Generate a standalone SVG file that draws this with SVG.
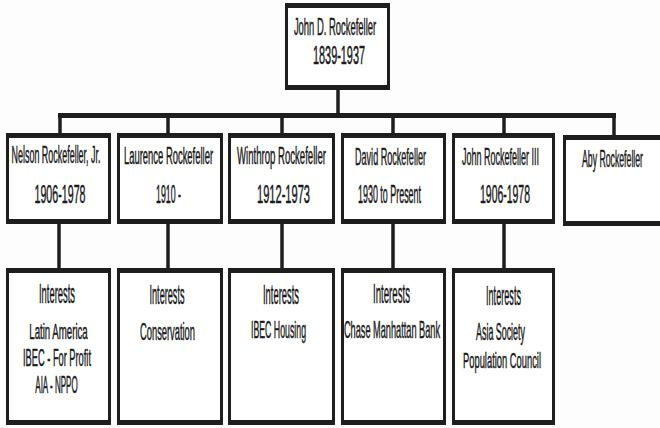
<svg xmlns="http://www.w3.org/2000/svg" width="660" height="428" viewBox="0 0 660 428">
<style>
.bx{fill:#fff;stroke:#1e1e1e;stroke-width:3}
.bd{fill:#1e1e1e}
.cn{stroke:#1e1e1e;stroke-width:3.5;fill:none}
text{font-family:"Liberation Sans",Arial,sans-serif;fill:#1a1a1a;text-anchor:middle;stroke:#1a1a1a;stroke-width:0.5}
.nm{font-size:23px}
.dt{font-size:25px}
.hd{font-size:27px}
.it{font-size:23px}
</style>
<rect width="660" height="428" fill="#fdfdfd"/>
<g id="connectors">
<line class="cn" x1="338" y1="88" x2="338" y2="116"/>
<line class="cn" x1="58" y1="115.5" x2="616" y2="115.5" style="stroke-width:5"/>
<line class="cn" x1="60" y1="115" x2="60" y2="135"/>
<line class="cn" x1="168" y1="115" x2="168" y2="135"/>
<line class="cn" x1="282" y1="115" x2="282" y2="135"/>
<line class="cn" x1="393" y1="115" x2="393" y2="135"/>
<line class="cn" x1="504" y1="115" x2="504" y2="135"/>
<line class="cn" x1="614" y1="115" x2="614" y2="135"/>
<line class="cn" x1="59" y1="222" x2="59" y2="270"/>
<line class="cn" x1="168" y1="222" x2="168" y2="270"/>
<line class="cn" x1="282" y1="222" x2="282" y2="270"/>
<line class="cn" x1="393" y1="222" x2="393" y2="270"/>
<line class="cn" x1="504" y1="222" x2="504" y2="270"/>
</g>
<g id="john-d">
<rect class="bx" x="286.5" y="4.5" width="102" height="84"/>
<rect class="bd" x="285" y="3" width="105" height="5"/>
<rect class="bd" x="285" y="85" width="105" height="5"/>
<text class="nm" transform="translate(335,35) scale(0.41,1)">John D. Rockefeller</text>
<text class="dt" transform="translate(339,64) scale(0.435,1)">1839-1937</text>
</g>
<g id="nelson">
<rect class="bx" x="7.5" y="134.5" width="102" height="88"/>
<rect class="bd" x="6" y="133" width="105" height="5"/>
<rect class="bd" x="6" y="219" width="105" height="5"/>
<text class="nm" transform="translate(56,163) scale(0.389,1)">Nelson Rockefeller, Jr.</text>
<text class="dt" transform="translate(60,203) scale(0.427,1)">1906-1978</text>
</g>
<g id="laurence">
<rect class="bx" x="118.5" y="134.5" width="103" height="88"/>
<rect class="bd" x="117" y="133" width="106" height="5"/>
<rect class="bd" x="117" y="219" width="106" height="5"/>
<text class="nm" transform="translate(168.5,164) scale(0.41,1)">Laurence Rockefeller</text>
<text class="dt" transform="translate(168.5,203) scale(0.353,1)">1910 -</text>
</g>
<g id="winthrop">
<rect class="bx" x="229.5" y="134.5" width="104" height="88"/>
<rect class="bd" x="228" y="133" width="107" height="5"/>
<rect class="bd" x="228" y="219" width="107" height="5"/>
<text class="nm" transform="translate(281.5,164) scale(0.417,1)">Winthrop Rockefeller</text>
<text class="dt" transform="translate(283.5,203) scale(0.444,1)">1912-1973</text>
</g>
<g id="david">
<rect class="bx" x="342.5" y="134.5" width="102" height="88"/>
<rect class="bd" x="341" y="133" width="105" height="5"/>
<rect class="bd" x="341" y="219" width="105" height="5"/>
<text class="nm" transform="translate(390.5,165) scale(0.394,1)">David Rockefeller</text>
<text class="dt" transform="translate(389.5,203) scale(0.357,1)">1930 to Present</text>
</g>
<g id="john-iii">
<rect class="bx" x="453.5" y="134.5" width="100" height="88"/>
<rect class="bd" x="452" y="133" width="103" height="5"/>
<rect class="bd" x="452" y="219" width="103" height="5"/>
<text class="nm" transform="translate(500.5,165) scale(0.391,1)">John Rockefeller III</text>
<text class="dt" transform="translate(505,203) scale(0.418,1)">1906-1978</text>
</g>
<g id="aby">
<rect class="bx" x="564.5" y="136.5" width="100" height="88"/>
<rect class="bd" x="563" y="135" width="103" height="5"/>
<rect class="bd" x="563" y="221" width="103" height="5"/>
<text class="nm" transform="translate(612.5,167) scale(0.379,1)">Aby Rockefeller</text>
</g>
<g id="nelson-interests">
<rect class="bx" x="7.5" y="269.5" width="102" height="154"/>
<rect class="bd" x="6" y="268" width="105" height="5"/>
<rect class="bd" x="6" y="420" width="105" height="5"/>
<text class="hd" transform="translate(57,303) scale(0.348,1)">Interests</text>
<text class="it" transform="translate(58.5,339) scale(0.42,1)">Latin America</text>
<text class="it" transform="translate(57,366) scale(0.403,1)">IBEC - For Profit</text>
<text class="it" transform="translate(56.5,393) scale(0.35,1)">AIA - NPPO</text>
</g>
<g id="laurence-interests">
<rect class="bx" x="118.5" y="269.5" width="103" height="154"/>
<rect class="bd" x="117" y="268" width="106" height="5"/>
<rect class="bd" x="117" y="420" width="106" height="5"/>
<text class="hd" transform="translate(167,304) scale(0.338,1)">Interests</text>
<text class="it" transform="translate(167.5,340) scale(0.406,1)">Conservation</text>
</g>
<g id="winthrop-interests">
<rect class="bx" x="229.5" y="269.5" width="104" height="154"/>
<rect class="bd" x="228" y="268" width="107" height="5"/>
<rect class="bd" x="228" y="420" width="107" height="5"/>
<text class="hd" transform="translate(281,304) scale(0.348,1)">Interests</text>
<text class="it" transform="translate(278.5,338) scale(0.381,1)">IBEC Housing</text>
</g>
<g id="david-interests">
<rect class="bx" x="342.5" y="269.5" width="102" height="154"/>
<rect class="bd" x="341" y="268" width="105" height="5"/>
<rect class="bd" x="341" y="420" width="105" height="5"/>
<text class="hd" transform="translate(391.5,303) scale(0.357,1)">Interests</text>
<text class="it" transform="translate(392,338) scale(0.4,1)">Chase Manhattan Bank</text>
</g>
<g id="john-iii-interests">
<rect class="bx" x="453.5" y="269.5" width="100" height="154"/>
<rect class="bd" x="452" y="268" width="103" height="5"/>
<rect class="bd" x="452" y="420" width="103" height="5"/>
<text class="hd" transform="translate(503.5,305) scale(0.338,1)">Interests</text>
<text class="it" transform="translate(500.5,340) scale(0.387,1)">Asia Society</text>
<text class="it" transform="translate(502,368) scale(0.407,1)">Population Council</text>
</g>
</svg>
